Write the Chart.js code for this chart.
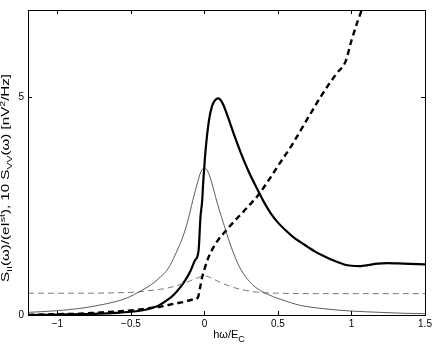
<!DOCTYPE html>
<html>
<head>
<meta charset="utf-8">
<script src="https://cdn.jsdelivr.net/npm/chart.js@4/dist/chart.umd.min.js"></script>
<style>
html, body { margin: 0; padding: 0; background: #fff; }
canvas { display: block; }
</style>
</head>
<body>
<canvas id="chart" width="436" height="347"></canvas>
<script>
// thin solid curve (peak at 0)
const thinSolidX = [-1.2, -1.0, -0.85, -0.74, -0.6, -0.52, -0.435, -0.36, -0.3, -0.25, -0.21, -0.17, -0.14, -0.11, -0.08, -0.05, -0.025, 0, 0.025, 0.05, 0.075, 0.1, 0.13, 0.154, 0.18, 0.2, 0.23, 0.267, 0.32, 0.38, 0.44, 0.5, 0.58, 0.653, 0.77, 0.88, 1.0, 1.2, 1.35, 1.5];
const thinSolidY = [0.06, 0.1, 0.15, 0.21, 0.31, 0.4, 0.55, 0.7, 0.87, 1.05, 1.3, 1.6, 1.86, 2.2, 2.62, 3.0, 3.28, 3.38, 3.28, 3.03, 2.72, 2.42, 2.1, 1.84, 1.58, 1.4, 1.16, 0.94, 0.72, 0.56, 0.46, 0.38, 0.29, 0.22, 0.16, 0.12, 0.09, 0.06, 0.04, 0.03];

// thin dashed curve
const thinDashX = [-1.2, -0.8, -0.6, -0.45, -0.38, -0.3, -0.25, -0.2, -0.154, -0.12, -0.08, -0.04, 0, 0.05, 0.1, 0.15, 0.2, 0.27, 0.37, 0.5, 0.8, 1.5];
const thinDashY = [0.5, 0.5, 0.51, 0.53, 0.56, 0.59, 0.62, 0.66, 0.71, 0.75, 0.81, 0.86, 0.9, 0.84, 0.76, 0.69, 0.63, 0.57, 0.52, 0.5, 0.49, 0.49];

// thick solid curve
const thickSolidX = [-1.2, -1.0, -0.8, -0.71, -0.6, -0.48, -0.42, -0.37, -0.31, -0.254, -0.21, -0.163, -0.13, -0.095, -0.065, -0.04, -0.027, -0.016, -0.009, 0.007, 0.03, 0.052, 0.075, 0.093, 0.12, 0.154, 0.2, 0.25, 0.3, 0.35, 0.4, 0.45, 0.5, 0.55, 0.6, 0.65, 0.7, 0.75, 0.8, 0.85, 0.9, 0.95, 1.0, 1.05, 1.1, 1.18, 1.24, 1.35, 1.5];
const thickSolidY = [0.0, 0.01, 0.02, 0.03, 0.05, 0.08, 0.11, 0.15, 0.22, 0.34, 0.46, 0.64, 0.8, 1.01, 1.25, 1.48, 2.25, 2.6, 3.0, 3.75, 4.45, 4.8, 4.94, 4.97, 4.88, 4.6, 4.15, 3.7, 3.3, 2.95, 2.62, 2.34, 2.12, 1.95, 1.8, 1.68, 1.57, 1.46, 1.37, 1.29, 1.22, 1.16, 1.13, 1.12, 1.14, 1.18, 1.19, 1.18, 1.16];

// thick dashed curve
const thickDashX = [-1.2, -1.0, -0.85, -0.74, -0.6, -0.48, -0.37, -0.3, -0.245, -0.19, -0.14, -0.086, -0.045, -0.03, -0.016, 0.0, 0.02, 0.045, 0.086, 0.15, 0.2, 0.25, 0.3, 0.37, 0.45, 0.5, 0.6, 0.7, 0.8, 0.9, 0.96, 1.0, 1.04, 1.075];
const thickDashY = [0.0, 0.02, 0.03, 0.05, 0.08, 0.11, 0.16, 0.19, 0.23, 0.27, 0.3, 0.35, 0.4, 0.62, 0.86, 1.05, 1.26, 1.45, 1.69, 1.95, 2.14, 2.32, 2.5, 2.77, 3.16, 3.42, 3.93, 4.5, 5.06, 5.55, 5.82, 6.3, 6.72, 7.05];

const xTicks = [-1, -0.5, 0, 0.5, 1, 1.5];
const yTicks = [0, 5];

function toPoints(xs, ys) {
    return xs.map((x, i) => ({ x: x, y: ys[i] }));
}

function fmtTick(v) {
    return v < 0 ? '\u2212' + Math.abs(v) : String(v);
}

// draws text pieces with sub/superscripts, returns total width
function richText(ctx, parts, x, y, measureOnly) {
    let cx = x;
    parts.forEach(p => {
        ctx.font = p.size + 'px "Liberation Sans", Arial, sans-serif';
        if (!measureOnly) ctx.fillText(p.t, cx, y + (p.dy || 0));
        cx += ctx.measureText(p.t).width;
    });
    return cx - x;
}

const frame = {
    id: 'frame',
    afterDraw(chart) {
        const ctx = chart.ctx;
        const a = chart.chartArea;
        const xs = chart.scales.x;
        const ys = chart.scales.y;
        ctx.save();
        ctx.strokeStyle = '#000';
        ctx.lineWidth = 1;
        ctx.strokeRect(Math.round(a.left) + 0.5, Math.round(a.top) + 0.5, Math.round(a.right - a.left), Math.round(a.bottom - a.top));

        // inward ticks
        ctx.beginPath();
        xTicks.forEach(v => {
            const px = Math.round(xs.getPixelForValue(v)) + 0.5;
            ctx.moveTo(px, a.bottom); ctx.lineTo(px, a.bottom - 4);
            ctx.moveTo(px, a.top); ctx.lineTo(px, a.top + 4);
        });
        yTicks.forEach(v => {
            const py = Math.round(ys.getPixelForValue(v)) + 0.5;
            ctx.moveTo(a.left, py); ctx.lineTo(a.left + 4, py);
            ctx.moveTo(a.right, py); ctx.lineTo(a.right - 4, py);
        });
        ctx.stroke();

        ctx.fillStyle = '#000';
        ctx.textBaseline = 'alphabetic';
        ctx.textAlign = 'left';

        // x title
        const xParts = [{ t: 'h\u03c9/E', size: 11 }, { t: 'C', size: 9, dy: 4 }];
        const xw = richText(ctx, xParts, 0, 0, true);
        richText(ctx, xParts, 229 - xw / 2, 338, false);

        // y title, rotated
        const yParts = [
            { t: 'S', size: 10 }, { t: 'II', size: 7, dy: 3 },
            { t: '(\u03c9)/(eI', size: 10 }, { t: 'st', size: 7, dy: -4 },
            { t: '), 10 S', size: 10 }, { t: 'VV', size: 7, dy: 3 },
            { t: '(\u03c9) [nV', size: 10 }, { t: '2', size: 7, dy: -4 },
            { t: '/Hz]', size: 10 }
        ];
        const yw = richText(ctx, yParts, 0, 0, true);
        const stretch = 208 / yw;
        ctx.translate(9, 178);
        ctx.rotate(-Math.PI / 2);
        ctx.scale(stretch, 1);
        richText(ctx, yParts, -yw / 2, 0, false);
        ctx.restore();
    }
};

const tickFont = { family: '"Liberation Sans", Arial, sans-serif', size: 10 };

new Chart(document.getElementById('chart'), {
    type: 'line',
    data: {
        datasets: [
            { data: toPoints(thinSolidX, thinSolidY), borderColor: '#333', borderWidth: 0.8 },
            { data: toPoints(thinDashX, thinDashY), borderColor: '#555', borderWidth: 0.8, borderDash: [6, 4] },
            { data: toPoints(thickSolidX, thickSolidY), borderColor: '#000', borderWidth: 2.2 },
            { data: toPoints(thickDashX, thickDashY), borderColor: '#000', borderWidth: 2.4, borderDash: [6, 4] }
        ]
    },
    options: {
        responsive: false,
        animation: false,
        devicePixelRatio: 1,
        elements: { point: { radius: 0 }, line: { cubicInterpolationMode: 'monotone' } },
        layout: { padding: { top: 3, right: 11, left: 0, bottom: 0 } },
        plugins: { legend: { display: false }, tooltip: { enabled: false } },
        scales: {
            x: {
                type: 'linear', min: -1.2, max: 1.5,
                afterBuildTicks: s => { s.ticks = xTicks.map(v => ({ value: v })); },
                afterFit: s => { s.height = 32; },
                grid: { display: false, drawTicks: false },
                border: { display: false },
                ticks: { callback: v => fmtTick(v), font: tickFont, color: '#000', padding: 3, maxRotation: 0, autoSkip: false }
            },
            y: {
                type: 'linear', min: 0, max: 7,
                afterBuildTicks: s => { s.ticks = yTicks.map(v => ({ value: v })); },
                afterFit: s => { s.width = 28; },
                grid: { display: false, drawTicks: false },
                border: { display: false },
                ticks: { callback: v => fmtTick(v), font: tickFont, color: '#000', padding: 4 }
            }
        }
    },
    plugins: [frame]
});
</script>
</body>
</html>
